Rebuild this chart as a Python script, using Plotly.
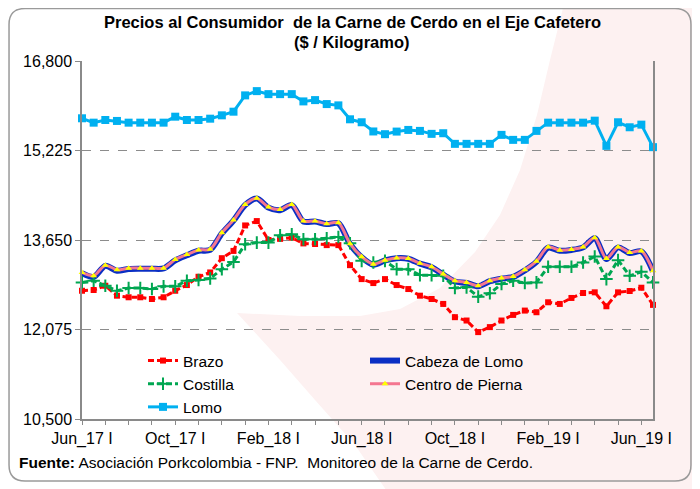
import plotly.graph_objects as go

categories = [
    "Jun_17 I", "Jun_17 II", "Jul_17 I", "Jul_17 II", "Ago_17 I", "Ago_17 II", "Sep_17 I", "Sep_17 II",
    "Oct_17 I", "Oct_17 II", "Nov_17 I", "Nov_17 II", "Dic_17 I", "Dic_17 II", "Ene_18 I", "Ene_18 II",
    "Feb_18 I", "Feb_18 II", "Mar_18 I", "Mar_18 II", "Abr_18 I", "Abr_18 II", "May_18 I", "May_18 II",
    "Jun_18 I", "Jun_18 II", "Jul_18 I", "Jul_18 II", "Ago_18 I", "Ago_18 II", "Sep_18 I", "Sep_18 II",
    "Oct_18 I", "Oct_18 II", "Nov_18 I", "Nov_18 II", "Dic_18 I", "Dic_18 II", "Ene_19 I", "Ene_19 II",
    "Feb_19 I", "Feb_19 II", "Mar_19 I", "Mar_19 II", "Abr_19 I", "Abr_19 II", "May_19 I", "May_19 II",
    "Jun_19 I", "Jun_19 II",
]

brazo = [12757, 12770, 12845, 12670, 12642, 12642, 12612, 12642, 12757, 12857, 13003, 13079, 13330,
         13458, 13906, 13983, 13650, 13670, 13690, 13590, 13580, 13560, 13560, 13207, 12962, 12892,
         12962, 12857, 12787, 12670, 12612, 12525, 12292, 12233, 12029, 12117, 12233, 12332, 12408,
         12379, 12554, 12525, 12630, 12717, 12729, 12484, 12729, 12752, 12810, 12508]

cabeza_lomo = [13065, 13000, 13195, 13110, 13140, 13145, 13145, 13150, 13290, 13380, 13460, 13475, 13765,
               13990, 14265, 14380, 14220, 14175, 14265, 13975, 13975, 13930, 13945, 13580, 13345, 13215,
               13290, 13330, 13320, 13235, 13170, 13040, 12920, 12895, 12835, 12925, 12970, 13000, 13115,
               13265, 13515, 13460, 13475, 13520, 13680, 13315, 13520, 13420, 13450, 13100]

costilla = [12904, 12933, 12845, 12757, 12805, 12805, 12787, 12834, 12834, 12933, 12945, 12974, 13137,
            13265, 13575, 13604, 13604, 13732, 13749, 13662, 13662, 13680, 13703, 13592, 13283, 13254,
            13283, 13137, 13137, 13032, 13032, 13020, 12805, 12817, 12653, 12712, 12875, 12933, 12892,
            12904, 13178, 13178, 13178, 13254, 13359, 12962, 13295, 13020, 13090, 12904]

centro_pierna = [13079, 13020, 13207, 13125, 13155, 13155, 13155, 13155, 13307, 13394, 13475, 13487, 13779,
                 14000, 14275, 14385, 14230, 14188, 14275, 13983, 13983, 13937, 13955, 13585, 13356, 13225,
                 13295, 13335, 13324, 13240, 13178, 13050, 12933, 12904, 12845, 12933, 12980, 13009, 13125,
                 13277, 13528, 13470, 13482, 13528, 13690, 13324, 13528, 13429, 13458, 13108]

lomo = [15792, 15715, 15762, 15745, 15715, 15715, 15715, 15715, 15820, 15762, 15762, 15785, 15844,
        15908, 16195, 16270, 16217, 16217, 16217, 16089, 16112, 16042, 16019, 15774, 15722, 15560,
        15512, 15558, 15587, 15570, 15518, 15529, 15342, 15342, 15342, 15342, 15500, 15412, 15412,
        15570, 15715, 15715, 15715, 15715, 15750, 15307, 15722, 15634, 15680, 15284]

y_ticks = [10500, 12075, 13650, 15225, 16800]
label_every = 8

FONT = "Liberation Sans, Arial, sans-serif"
OFF = 8  # page body margin
W, H = 692, 481
L, R, T, B = 74, 47, 53, 70
PW, PH = W - L - R, H - T - B


def px2x(px):
    return (px - OFF - L) / PW


def px2y(py):
    return (H - B - (py - OFF)) / PH


def path_from(points):
    return "M " + " L ".join(f"{px2x(a):.4f},{px2y(b):.4f}" for a, b in points) + " Z"


x_idx = list(range(len(categories)))
tickvals = x_idx[::label_every]
ticktext = [categories[i] for i in tickvals]

fig = go.Figure()

fig.add_trace(go.Scatter(
    x=x_idx, y=brazo, name="Brazo", mode="lines+markers", legend="legend",
    line=dict(color="#ff0000", width=3, dash="6px,3px"),
    marker=dict(symbol="square", size=6, color="#ff0000"), cliponaxis=False))
fig.add_trace(go.Scatter(
    x=x_idx, y=cabeza_lomo, name="Cabeza de Lomo", mode="lines", legend="legend2",
    line=dict(color="#0a2fc4", width=6, shape="spline", smoothing=0.8), cliponaxis=False))
fig.add_trace(go.Scatter(
    x=x_idx, y=costilla, name="Costilla", mode="lines+markers", legend="legend",
    line=dict(color="#00a651", width=3, dash="6px,3px"),
    marker=dict(symbol="cross-thin", size=9, line=dict(color="#00a651", width=2)), cliponaxis=False))
fig.add_trace(go.Scatter(
    x=x_idx, y=centro_pierna, name="Centro de Pierna", mode="lines+markers", legend="legend2",
    line=dict(color="#f47690", width=3, shape="spline", smoothing=0.8),
    marker=dict(symbol="triangle-up", size=6, color="#ffff00"), cliponaxis=False))
fig.add_trace(go.Scatter(
    x=x_idx, y=lomo, name="Lomo", mode="lines+markers", legend="legend",
    line=dict(color="#00b0f0", width=3),
    marker=dict(symbol="square", size=8, color="#00b0f0"), cliponaxis=False))

shapes = []
# faint pink watermark swoosh
pink_pts = [(565, 0), (710, 0), (710, 500), (393, 500), (355, 445), (315, 400), (280, 360), (237, 313),
            (300, 316), (360, 316), (400, 309), (440, 288), (475, 252), (500, 215), (520, 170),
            (537, 115), (550, 60)]
shapes.append(dict(type="path", xref="paper", yref="paper", path=path_from(pink_pts),
                   fillcolor="#fdf1f1", line=dict(width=0), layer="below"))
# rounded outer frame
x0, y0, x1, y1, r = 9, 8.5, 691, 481, 16
frame = (f"M {px2x(x0 + r):.4f},{px2y(y0):.4f} L {px2x(x1 - r):.4f},{px2y(y0):.4f} "
         f"Q {px2x(x1):.4f},{px2y(y0):.4f} {px2x(x1):.4f},{px2y(y0 + r):.4f} "
         f"L {px2x(x1):.4f},{px2y(y1 - r):.4f} "
         f"Q {px2x(x1):.4f},{px2y(y1):.4f} {px2x(x1 - r):.4f},{px2y(y1):.4f} "
         f"L {px2x(x0 + r):.4f},{px2y(y1):.4f} "
         f"Q {px2x(x0):.4f},{px2y(y1):.4f} {px2x(x0):.4f},{px2y(y1 - r):.4f} "
         f"L {px2x(x0):.4f},{px2y(y0 + r):.4f} "
         f"Q {px2x(x0):.4f},{px2y(y0):.4f} {px2x(x0 + r):.4f},{px2y(y0):.4f} Z")
shapes.append(dict(type="path", xref="paper", yref="paper", path=frame,
                   line=dict(color="#9a9a9a", width=1.5), layer="below"))

annotations = [
    dict(text="<b>Precios al Consumidor  de la Carne de Cerdo en el Eje Cafetero</b>",
         x=px2x(352), y=px2y(22), xref="paper", yref="paper", showarrow=False,
         xanchor="center", yanchor="middle", font=dict(family=FONT, size=16.5, color="#000000")),
    dict(text="<b>($ / Kilogramo)</b>",
         x=px2x(352), y=px2y(42), xref="paper", yref="paper", showarrow=False,
         xanchor="center", yanchor="middle", font=dict(family=FONT, size=16.5, color="#000000")),
    dict(text="<b>Fuente:</b> Asociación Porkcolombia - FNP.&nbsp; Monitoreo de la Carne de Cerdo.",
         x=px2x(17), y=px2y(462), xref="paper", yref="paper", showarrow=False,
         xanchor="left", yanchor="middle", font=dict(family=FONT, size=15.5, color="#000000")),
]

fig.update_layout(
    width=W, height=H,
    margin=dict(l=L, r=R, t=T, b=B),
    paper_bgcolor="#ffffff", plot_bgcolor="rgba(0,0,0,0)",
    font=dict(family=FONT, size=16, color="#000000"),
    shapes=shapes, annotations=annotations,
    xaxis=dict(range=[0, len(categories) - 1], tickmode="array", tickvals=tickvals, ticktext=ticktext,
               showgrid=False, zeroline=False, showline=True, linecolor="#8a8a8a", linewidth=1.5,
               ticks="outside", ticklen=4, tickcolor="#8a8a8a",
               minor=dict(dtick=2, tick0=0, ticks="outside", ticklen=4, tickcolor="#8a8a8a"),
               tickfont=dict(family=FONT, size=16)),
    yaxis=dict(range=[10500, 16800], tickmode="array", tickvals=y_ticks,
               ticktext=[f"{v:,}" for v in y_ticks], showgrid=True, gridcolor="#8c8c8c",
               griddash="dash", gridwidth=1, zeroline=False, showline=True, mirror=True,
               linecolor="#8a8a8a", linewidth=1.5, ticks="outside", ticklen=5, tickcolor="#8a8a8a",
               tickfont=dict(family=FONT, size=16)),
    legend=dict(x=px2x(143), y=px2y(344), xanchor="left", yanchor="top", bgcolor="rgba(0,0,0,0)",
                font=dict(family=FONT, size=15.5), tracegroupgap=0),
    legend2=dict(x=px2x(365), y=px2y(344), xanchor="left", yanchor="top", bgcolor="rgba(0,0,0,0)",
                 font=dict(family=FONT, size=15.5), tracegroupgap=0),
    showlegend=True,
)

fig.write_html("out.html")
